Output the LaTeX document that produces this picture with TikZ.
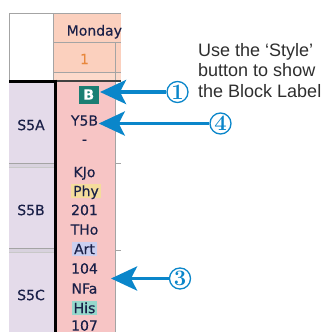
\documentclass[tikz,border=0pt]{standalone}
\usepackage{fontspec}
\usetikzlibrary{arrows.meta}
\newfontfamily\cellfont[FakeBold=0.4]{DejaVu Sans}
\newfontfamily\notefont{Liberation Sans}
\definecolor{hdrfill}{HTML}{FBD0BE}
\definecolor{bandfill}{HTML}{FCDACB}
\definecolor{lessonfill}{HTML}{F7C5C5}
\definecolor{classfill}{HTML}{E4DBEA}
\definecolor{sepfill}{HTML}{D8D2DE}
\definecolor{gridgray}{HTML}{A4A4A4}
\definecolor{inktext}{HTML}{1A2048}
\definecolor{periodtext}{HTML}{E8873C}
\definecolor{blocktag}{HTML}{1B7E73}
\definecolor{hlphy}{HTML}{F5DC9C}
\definecolor{hlart}{HTML}{CBCFF0}
\definecolor{hlhis}{HTML}{96D8CC}
\definecolor{callblue}{HTML}{0A86CA}
\definecolor{notetext}{HTML}{2E2E2E}
\begin{document}
\begin{tikzpicture}[x=1pt,y=-1pt,
  cell/.style={font=\cellfont\fontsize{14}{15}\selectfont, text=inktext,
    inner sep=0pt, text height=10.2pt, text depth=0pt, anchor=center},
  hl/.style={inner xsep=1.8pt, inner ysep=1.5pt},
  gridline/.style={draw=gridgray, line width=0.8pt},
  callnum/.style={circle, draw=callblue, line width=1.3pt, fill=white,
    minimum size=21pt, inner sep=0pt, text=callblue,
    font=\fontsize{22}{22}\selectfont\bfseries},
  callout/.style={draw=callblue, line width=3.8pt,
    -{Stealth[length=26pt,width=24pt,inset=6pt]}},
  note/.style={font=\notefont\fontsize{18}{20}\selectfont, text=notetext,
    inner sep=0pt, anchor=base west}]
\useasboundingbox (0,0) rectangle (327,332);

% timetable grid, cut off at the right
\begin{scope}
  \clip (0,0) rectangle (121,332);
  % header
  \fill[white] (9,13) rectangle (53,80);
  \fill[hdrfill] (53,13) rectangle (121,72);
  \fill[bandfill] (53,72) rectangle (121,80);
  \draw[gridline] (9,13) -- (121,13);
  \draw[gridline] (9,13) -- (9,332);
  \draw[gridline] (53,13) -- (53,80);
  \draw[gridline] (53,42) -- (121,42);
  \draw[gridline] (53,72.5) -- (121,72.5);
  \draw[gridline] (115,42) -- (115,80);
  % class column
  \fill[classfill] (9,82) rectangle (54,163);
  \fill[sepfill] (9,163) rectangle (54,167);
  \fill[classfill] (9,167) rectangle (54,248);
  \fill[sepfill] (9,248) rectangle (54,252);
  \fill[classfill] (9,252) rectangle (54,332);
  \draw[gridline] (9,163) -- (54,163);
  \draw[gridline, draw=gridgray!60] (9,167) -- (54,167);
  \draw[gridline] (9,248) -- (54,248);
  \draw[gridline, draw=gridgray!60] (9,252) -- (54,252);
  % lesson cell
  \fill[lessonfill] (57,82) rectangle (115.5,332);
  \draw[gridline] (115.8,80) -- (115.8,332);
  \draw[gridline] (116,163) -- (121,163);
  \draw[gridline] (116,250) -- (121,250);
  % heavy frame lines
  \draw[draw=black!75, line width=1.2pt] (57,81) -- (121,81);
  \draw[black, line width=3pt] (9,81) -- (57,81);
  \draw[black, line width=3pt] (55.5,79.5) -- (55.5,332);
\end{scope}

% header texts
\node[cell, anchor=west] (day) at (66.5,30.5) {Monday};
\node[cell, text=periodtext] (period) at (84.5,59) {1};

% class labels
\node[cell] (s5a) at (31,125) {S5A};
\node[cell] (s5b) at (31,210) {S5B};
\node[cell] (s5c) at (31,295) {S5C};

% lesson cell contents
\node[fill=blocktag, text=white, minimum width=20pt, minimum height=18pt,
  inner sep=0pt, font=\cellfont\fontsize{14}{14}\selectfont\bfseries]
  (bbox) at (88.8,94.5) {B};
\node[cell] (y5b) at (84.5,120.5) {Y5B};
\node[cell] (dash) at (84.5,139) {-};
\node[cell] (kjo) at (84.5,172) {KJo};
\node[cell, hl, fill=hlphy] (phy) at (86,191) {Phy};
\node[cell] (r201) at (84.5,210) {201};
\node[cell] (tho) at (84.5,229.5) {THo};
\node[cell, hl, fill=hlart] (art) at (84.5,249) {Art};
\node[cell] (r104) at (84.5,268.5) {104};
\node[cell] (nfa) at (84.5,288.5) {NFa};
\node[cell, hl, fill=hlhis] (his) at (84.5,308) {His};
\node[cell] (r107) at (84.5,325.5) {107};

% callouts
\node[callnum] (c1) at (177.5,92) {1};
\node[callnum] (c4) at (220.5,123.5) {4};
\node[callnum] (c3) at (180,278.5) {3};
\coordinate (t3) at (111,278.5);
\draw[callout] (c1.west) -- ([xshift=1pt]bbox.east |- c1);
\draw[callout] (c4.west) -- ([xshift=0.5pt]y5b.east |- c4);
\draw[callout] (c3.west) -- (t3);

% explanatory note
\node[note] (n1) at (198,56) {Use the ‘Style’};
\node[note] (n2) at (198,76.5) {button to show};
\node[note] (n3) at (198,97) {the Block Label};
\end{tikzpicture}
\end{document}
